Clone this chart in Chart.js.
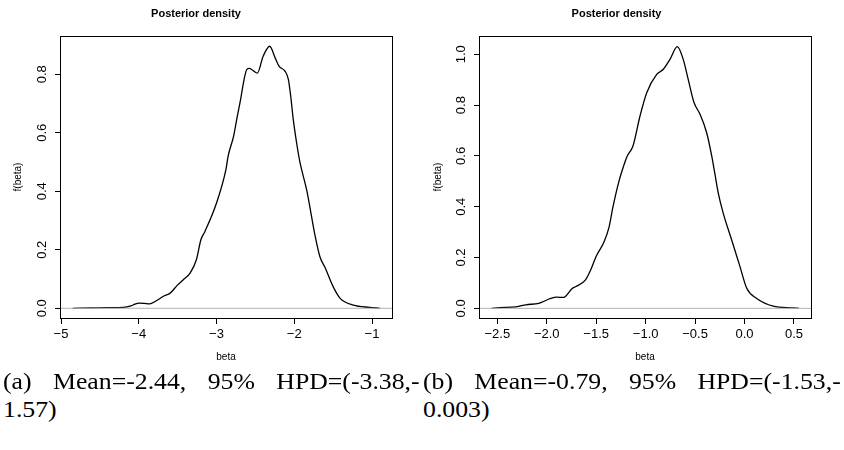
<!DOCTYPE html>
<html>
<head>
<meta charset="utf-8">
<script src="https://cdn.jsdelivr.net/npm/chart.js@4.4.0/dist/chart.umd.min.js"></script>
<style>
body { margin: 0; background: #fff; width: 844px; height: 450px; position: relative; overflow: hidden; }
.panel { position: absolute; top: 0; width: 422px; height: 375px; }
.cap { position: absolute; font-family: "Liberation Serif", "Times New Roman", serif; font-size: 23px; line-height: 28px; color: #000; white-space: nowrap; transform: scaleX(1.12); transform-origin: 0 0; }
.just { text-align: justify; text-align-last: justify; }
</style>
</head>
<body>
<div class="panel" style="left:0"><canvas id="chartA"></canvas></div>
<div class="panel" style="left:422px"><canvas id="chartB"></canvas></div>

<div class="cap just" style="left:3px; top:368px; width:372px">(a) Mean=-2.44, 95% HPD=(-3.38,-</div>
<div class="cap" style="left:3px; top:396px">1.57)</div>
<div class="cap just" style="left:423px; top:368px; width:373px">(b) Mean=-0.79, 95% HPD=(-1.53,-</div>
<div class="cap" style="left:423px; top:396px">0.003)</div>

<script>
// panel (a): posterior density of beta
const betaA = [-4.85, -4.6, -4.4, -4.2, -4.1, -4.05, -4.0, -3.93, -3.86, -3.78, -3.67, -3.6, -3.5, -3.43, -3.34, -3.26, -3.2, -3.15, -3.0, -2.88, -2.85, -2.78, -2.74, -2.69, -2.645, -2.61, -2.578, -2.535, -2.475, -2.4, -2.316, -2.247, -2.196, -2.12, -2.076, -2.046, -2.013, -1.97, -1.926, -1.89, -1.84, -1.73, -1.67, -1.6, -1.5, -1.41, -1.24, -1.03, -0.9];
const densA = [0.000, 0.001, 0.002, 0.003, 0.008, 0.014, 0.018, 0.017, 0.015, 0.025, 0.043, 0.051, 0.080, 0.097, 0.120, 0.165, 0.235, 0.262, 0.360, 0.473, 0.521, 0.589, 0.646, 0.714, 0.783, 0.817, 0.820, 0.814, 0.804, 0.862, 0.896, 0.857, 0.828, 0.811, 0.783, 0.726, 0.646, 0.566, 0.498, 0.458, 0.404, 0.245, 0.176, 0.137, 0.074, 0.034, 0.011, 0.003, 0.000];
const xTicksA = [-5, -4, -3, -2, -1];
const yTicksA = [0, 0.2, 0.4, 0.6, 0.8];

// panel (b)
const betaB = [-2.56, -2.48, -2.31, -2.21, -2.08, -1.96, -1.9, -1.83, -1.74, -1.71, -1.61, -1.556, -1.5, -1.42, -1.37, -1.33, -1.27, -1.21, -1.186, -1.128, -1.057, -0.989, -0.888, -0.821, -0.754, -0.68, -0.62, -0.569, -0.511, -0.45, -0.383, -0.332, -0.3, -0.265, -0.215, -0.13, -0.046, 0.022, 0.123, 0.29, 0.49, 0.55];
const densB = [0.000, 0.003, 0.006, 0.014, 0.020, 0.039, 0.044, 0.043, 0.079, 0.085, 0.111, 0.151, 0.205, 0.262, 0.320, 0.400, 0.500, 0.575, 0.600, 0.639, 0.757, 0.849, 0.921, 0.941, 0.980, 1.030, 0.980, 0.900, 0.810, 0.764, 0.691, 0.600, 0.530, 0.453, 0.374, 0.269, 0.164, 0.079, 0.039, 0.009, 0.002, 0.000];
const xTicksB = [-2.5, -2, -1.5, -1, -0.5, 0, 0.5];
const yTicksB = [0, 0.2, 0.4, 0.6, 0.8, 1.0];

const sans = '"Liberation Sans", Arial, Helvetica, sans-serif';

function fmt(v, d) {
    return v.toFixed(d).replace('-', '\u2212');
}

// R style box around the plot region + vertical y tick labels
const rBox = {
    id: 'rBox',
    afterDraw(chart) {
        const a = chart.chartArea;
        const ctx = chart.ctx;
        ctx.save();
        ctx.strokeStyle = '#000';
        ctx.lineWidth = 1;
        ctx.strokeRect(Math.round(a.left) + 0.5, Math.round(a.top) + 0.5, Math.round(a.right - a.left), Math.round(a.bottom - a.top));

        const ys = chart.scales.y;
        ctx.fillStyle = '#000';
        ctx.font = '13px ' + sans;
        ctx.textAlign = 'center';
        ctx.textBaseline = 'middle';
        ys.ticks.forEach(t => {
            ctx.save();
            ctx.translate(a.left - 18, ys.getPixelForValue(t.value));
            ctx.rotate(-Math.PI / 2);
            ctx.fillText(t.value.toFixed(1), 0, 0);
            ctx.restore();
        });
        ctx.restore();
    }
};

function makePanel(id, xs, ys, xTicks, yTicks, xRange, yRange, dec, yWidth, padRight, yTitlePad) {
    const pts = xs.map((x, i) => ({ x: x, y: ys[i] }));
    return new Chart(document.getElementById(id), {
        type: 'line',
        data: {
            datasets: [
                {
                    // zero line
                    data: [{ x: xRange[0], y: 0 }, { x: xRange[1], y: 0 }],
                    borderColor: '#b0b0b0',
                    borderWidth: 1,
                    pointRadius: 0
                },
                {
                    data: pts,
                    borderColor: '#000',
                    borderWidth: 1.3,
                    pointRadius: 0,
                    cubicInterpolationMode: 'monotone'
                }
            ]
        },
        options: {
            responsive: true,
            maintainAspectRatio: false,
            animation: false,
            layout: { padding: { left: 0, right: padRight, top: 0, bottom: 0 } },
            plugins: {
                legend: { display: false },
                tooltip: { enabled: false },
                title: {
                    display: true,
                    text: 'Posterior density',
                    color: '#000',
                    font: { family: sans, size: 11, weight: 'bold' },
                    padding: { top: 7.4, bottom: 15.4 }
                }
            },
            scales: {
                x: {
                    type: 'linear',
                    min: xRange[0],
                    max: xRange[1],
                    border: { display: false },
                    grid: { drawOnChartArea: false, tickLength: 6, color: '#000', tickColor: '#000' },
                    afterBuildTicks: s => { s.ticks = xTicks.map(v => ({ value: v })); },
                    ticks: { color: '#000', font: { family: sans, size: 13 }, padding: 3, maxRotation: 0, autoSkip: false, callback: v => fmt(v, dec) },
                    title: { display: true, text: 'beta', color: '#000', font: { family: sans, size: 10 }, padding: { top: 0, bottom: 12 } },
                    afterFit: s => { s.height = 57; }
                },
                y: {
                    type: 'linear',
                    min: yRange[0],
                    max: yRange[1],
                    border: { display: false },
                    grid: { drawOnChartArea: false, tickLength: 5, color: '#000', tickColor: '#000' },
                    afterBuildTicks: s => { s.ticks = yTicks.map(v => ({ value: v })); },
                    ticks: { display: false },
                    title: { display: true, text: 'f(beta)', color: '#000', font: { family: sans, size: 10 }, padding: { top: yTitlePad, bottom: 0 } },
                    afterFit: s => { s.width = yWidth; }
                }
            }
        },
        plugins: [rBox]
    });
}

makePanel('chartA', betaA, densA, xTicksA, yTicksA, [-5.013, -0.743], [-0.0332, 0.931], 0, 60, 30, 12.6);
makePanel('chartB', betaB, densB, xTicksB, yTicksB, [-2.685, 0.672], [-0.038, 1.072], 1, 57, 33, 10.6);
</script>
</body>
</html>
